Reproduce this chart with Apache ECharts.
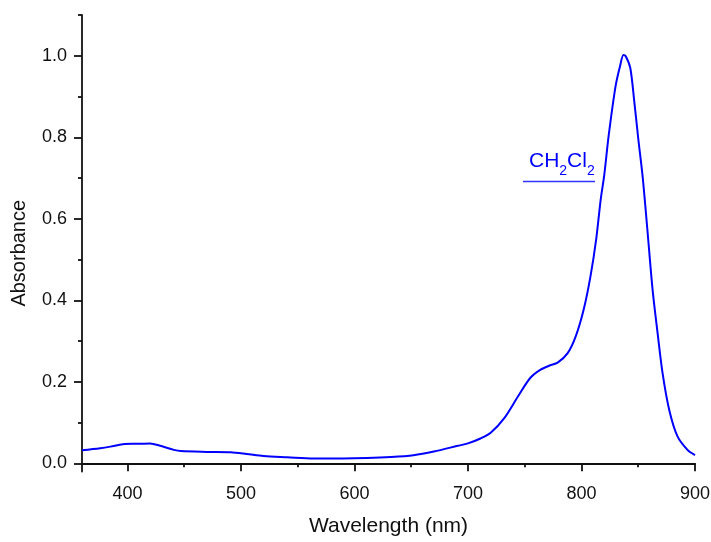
<!DOCTYPE html>
<html>
<head>
<meta charset="utf-8">
<script src="https://cdn.jsdelivr.net/npm/echarts@6/dist/echarts.min.js"></script>
<style>
html,body{margin:0;padding:0;background:#fff;}
#chart{width:711px;height:542px;}
</style>
</head>
<body>
<div id="chart"></div>
<script>
// ---- data ----
var SERIES_NAME = 'CH2Cl2';
var wavelength = [360,376,385,396,408,420,429,441,447,470,491,505,520,541,564,590,611,632,652,670,691,700,711,720,732,744,755,764,772,779,788,795,802,808,813,817,820,824,830,834,837,839,843,846.5,850,854,858,862.6,867,871.4,877.3,884.6,893.4,900];
var absorbance = [0.032,0.037,0.041,0.047,0.048,0.049,0.043,0.033,0.030,0.028,0.027,0.023,0.018,0.015,0.012,0.012,0.013,0.0155,0.020,0.029,0.043,0.049,0.061,0.075,0.111,0.164,0.210,0.230,0.240,0.247,0.271,0.312,0.378,0.460,0.551,0.649,0.706,0.805,0.925,0.975,1.002,0.999,0.970,0.888,0.797,0.700,0.575,0.427,0.321,0.222,0.131,0.066,0.033,0.020];
var xMajorTicks = [400,500,600,700,800,900];
var xMinorTicks = [450,550,650,750,850];
var yMajorTicks = [0,0.2,0.4,0.6,0.8,1.0];
var yMinorTicks = [0.1,0.3,0.5,0.7,0.9,1.1];
var X_NAME = 'Wavelength (nm)';
var Y_NAME = 'Absorbance';

var points = wavelength.map(function(w,i){return [w, absorbance[i]];});

var AX = '#111111';
var FONT = 'Liberation Sans, Arial, sans-serif';
var BLUE = '#0000ff';

function majorX(){
  return {
    type:'value', min:360, max:900, position:'bottom',
    name:X_NAME, nameLocation:'middle', nameGap:44,
    nameTextStyle:{fontFamily:FONT, fontSize:21, color:AX},
    axisLine:{show:true, lineStyle:{color:AX, width:1.8}},
    axisTick:{show:true, inside:false, length:8, customValues:xMajorTicks, lineStyle:{color:AX, width:1.8}},
    axisLabel:{show:true, margin:14, customValues:xMajorTicks, fontFamily:FONT, fontSize:18, color:AX},
    splitLine:{show:false}
  };
}
function minorX(){
  return {
    type:'value', min:360, max:900, position:'bottom',
    axisLine:{show:false},
    axisTick:{show:true, inside:false, length:4, customValues:xMinorTicks, lineStyle:{color:AX, width:1.8}},
    axisLabel:{show:false},
    splitLine:{show:false}
  };
}
function majorY(){
  return {
    type:'value', min:-0.02, max:1.1, position:'left',
    name:Y_NAME, nameLocation:'middle', nameGap:53, nameRotate:90,
    nameTextStyle:{fontFamily:FONT, fontSize:20, color:AX, padding:[0,20,0,0]},
    axisLine:{show:true, lineStyle:{color:AX, width:1.8}},
    axisTick:{show:true, inside:false, length:8, customValues:yMajorTicks, lineStyle:{color:AX, width:1.8}},
    axisLabel:{show:true, margin:15, customValues:yMajorTicks, fontFamily:FONT, fontSize:18, color:AX,
      formatter:function(v){return v.toFixed(1);}},
    splitLine:{show:false}
  };
}
function minorY(){
  return {
    type:'value', min:-0.02, max:1.1, position:'left',
    axisLine:{show:false},
    axisTick:{show:true, inside:false, length:4, customValues:yMinorTicks, lineStyle:{color:AX, width:1.8}},
    axisLabel:{show:false},
    splitLine:{show:false}
  };
}

var chart = echarts.init(document.getElementById('chart'), null, {renderer:'canvas'});
var nameParts = SERIES_NAME.match(/[A-Za-z]+|\d+/g);
var richText = nameParts.map(function(p){ return /\d/.test(p) ? '{s|'+p+'}' : '{a|'+p+'}'; }).join('');

chart.setOption({
  animation:false,
  backgroundColor:'#fff',
  grid:{left:82, right:16, top:15, bottom:70.5, containLabel:false, outerBoundsMode:'none'},
  xAxis:[majorX(), minorX()],
  yAxis:[majorY(), minorY()],
  series:[{
    name:SERIES_NAME, type:'line', xAxisIndex:0, yAxisIndex:0,
    data:points, showSymbol:false, smooth:0.3,
    lineStyle:{color:BLUE, width:2},
    itemStyle:{color:BLUE}
  }],
  graphic:[
    {type:'text', left:529, top:145, silent:true,
      style:{text:richText, fill:BLUE, font:'21px '+FONT,
        rich:{
          a:{fontFamily:FONT, fontSize:21, fill:BLUE, lineHeight:21},
          s:{fontFamily:FONT, fontSize:14, fill:BLUE, lineHeight:14, padding:[19,0,0,0]}
        }}},
    {type:'line', silent:true, shape:{x1:523, y1:181.5, x2:595, y2:181.5},
      style:{stroke:'#3333ff', lineWidth:1.4}}
  ]
});
</script>
</body>
</html>
